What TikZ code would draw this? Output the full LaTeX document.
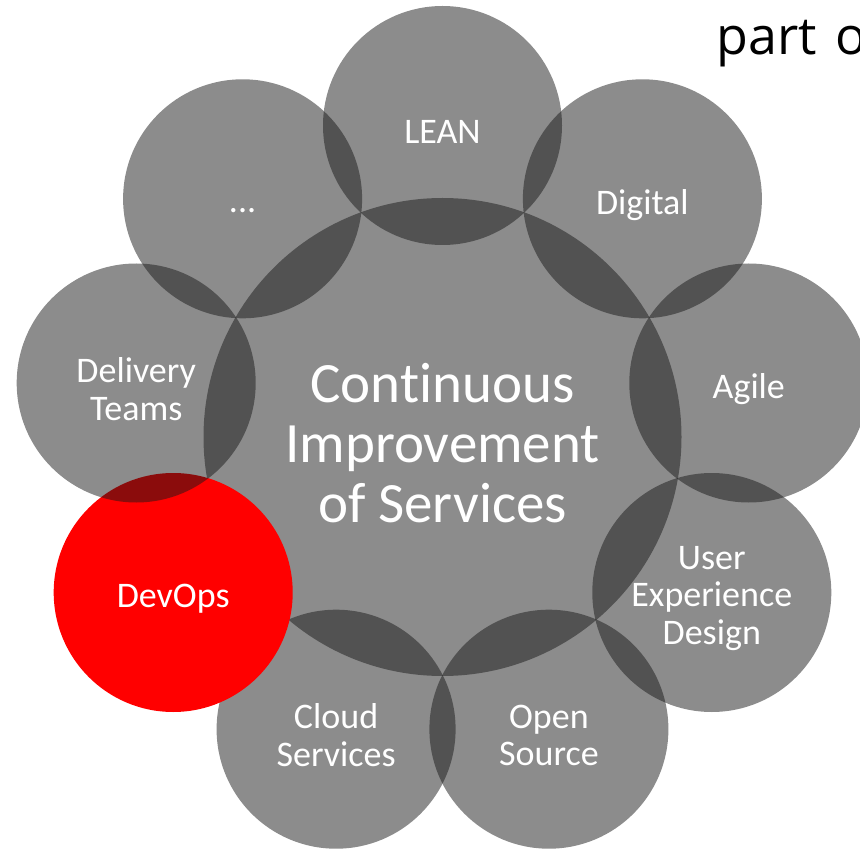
\documentclass[tikz,border=0pt]{standalone}
\usepackage{fontspec}
\setmainfont{Carlito}[Ligatures=NoCommon]
\newfontfamily\titlefont{Open Sans}[WordSpace=1.4]
\usepackage{tikz}

\definecolor{ringgrey}{gray}{0.10}
\definecolor{devred}{RGB}{255,0,0}

\tikzset{
  blob/.style={circle, inner sep=0pt, minimum size=239pt, fill=ringgrey, fill opacity=0.5},
  petaltext/.style={text=white, align=center, opacity=1, yshift=-6pt, font=\fontsize{36}{37.5}\selectfont},
  hubtext/.style={petaltext, font=\fontsize{57}{60}\selectfont},
  petal/.style={blob, label={[petaltext]center:#1}},
  hub/.style={blob, minimum size=478pt, label={[hubtext]center:#1}},
  redpetal/.style={petal={#1}, fill=devred, fill opacity=1}
}

\begin{document}
\begin{tikzpicture}[x=1pt, y=-1pt]
    \useasboundingbox (0, 0) rectangle (860, 850);
    \clip (0, 0) rectangle (860, 850);
    \node[hub={Continuous\\Improvement\\of Services}] (cis) at (442.5, 437) {};
    \node[petal={LEAN}] (lean) at (442.5, 125.5) {};
    \node[petal={Digital}] (digital) at (642.4, 198.8) {};
    \node[petal={Agile}] (agile) at (748.8, 383) {};
    \node[petal={User\\Experience\\Design}] (uxd) at (711.8, 592.5) {};
    \node[petal={Open\\Source}] (open) at (548.9, 729.2) {};
    \node[petal={Cloud\\Services}] (cloud) at (336.1, 729.2) {};
    \node[redpetal={DevOps}] (devops) at (173.2, 592.5) {};
    \node[petal={Delivery\\Teams}] (delivery) at (136.2, 383) {};
    \node[petal={\strut...}] (more) at (242.6, 198.8) {};
    \node[anchor=base west, font=\titlefont\fontsize{52}{52}\selectfont] (part) at (713, 55) {part o};
\end{tikzpicture}
\end{document}
